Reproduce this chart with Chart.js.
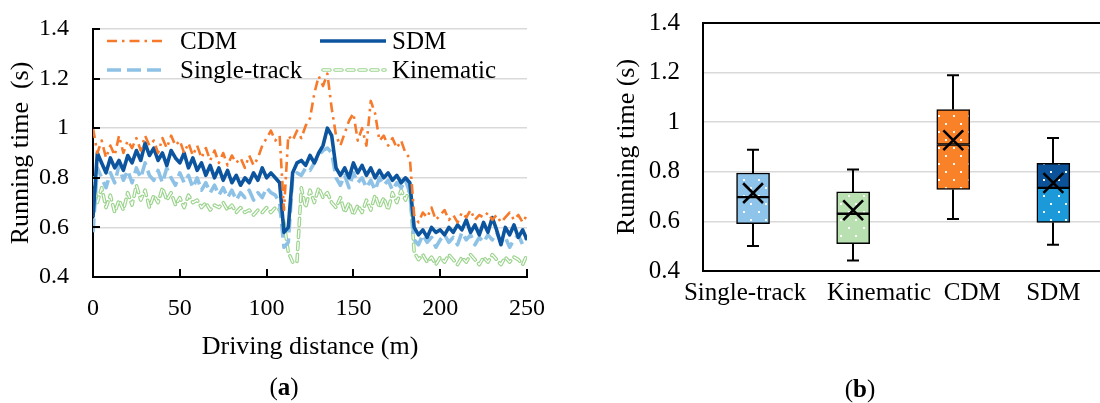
<!DOCTYPE html>
<html>
<head>
<meta charset="utf-8">
<title>Running time</title>
<script src="https://cdn.jsdelivr.net/npm/chart.js@4/dist/chart.umd.min.js"></script>
<style>
  html, body { margin: 0; padding: 0; background: #fff; width: 1100px; height: 403px; overflow: hidden; position: relative; }
  canvas { position: absolute; top: 0; }
  #chartA { left: 0; }
  #chartB { left: 560px; }
  .cap { position: absolute; font-family: 'Liberation Serif', 'Times New Roman', serif; font-size: 25px; color: #000; transform: translate(-50%, -50%); white-space: nowrap; }
</style>
</head>
<body>
<canvas id="chartA" width="560" height="403"></canvas>
<canvas id="chartB" width="560" height="403"></canvas>
<div class="cap" style="left:284px; top:387px;">(<b>a</b>)</div>
<div class="cap" style="left:860px; top:389px;">(<b>b</b>)</div>
<script>
// Running time along the route (m)
const distance = [0,2.5,5,7.5,10,12.5,15,17.5,20,22.5,25,27.5,30,32.5,35,37.5,40,42.5,45,47.5,
  50,52.5,55,57.5,60,62.5,65,67.5,70,72.5,75,77.5,80,82.5,85,87.5,90,92.5,95,97.5,
  100,102.5,105,107.5,110,112.5,115,117.5,120,122.5,125,127.5,130,132.5,135,137.5,140,142.5,145,147.5,
  150,152.5,155,157.5,160,162.5,165,167.5,170,172.5,175,177.5,180,182.5,185,187.5,190,192.5,195,197.5,
  200,202.5,205,207.5,210,212.5,215,217.5,220,222.5,225,227.5,230,232.5,235,237.5,240,242.5,245,247.5,250];

const cdm = [1.00,0.90,0.95,0.88,0.93,0.89,0.97,0.90,0.95,0.92,
  0.96,0.91,0.97,0.93,0.95,0.90,0.96,0.92,0.97,0.93,
  0.95,0.90,0.94,0.89,0.93,0.88,0.92,0.87,0.91,0.86,
  0.90,0.85,0.89,0.86,0.88,0.84,0.89,0.85,0.88,0.93,
  0.96,0.99,0.95,0.97,0.67,0.97,0.95,0.99,0.96,1.01,
  1.04,1.14,1.21,1.17,1.22,1.08,0.97,0.93,0.98,1.03,
  1.06,0.95,1.00,0.93,1.11,1.06,0.95,0.97,0.93,0.96,
  0.92,0.95,0.90,0.88,0.65,0.62,0.66,0.64,0.68,0.63,
  0.65,0.67,0.63,0.65,0.62,0.66,0.64,0.67,0.63,0.65,
  0.64,0.66,0.63,0.65,0.62,0.64,0.66,0.63,0.65,0.62,0.65];

const sdm = [0.64,0.90,0.86,0.82,0.88,0.84,0.87,0.83,0.89,0.86,
  0.91,0.87,0.94,0.89,0.92,0.87,0.90,0.85,0.91,0.88,
  0.86,0.90,0.84,0.88,0.83,0.86,0.81,0.85,0.80,0.84,
  0.79,0.83,0.78,0.81,0.77,0.80,0.78,0.82,0.79,0.84,
  0.80,0.82,0.80,0.78,0.58,0.60,0.82,0.86,0.87,0.85,
  0.89,0.86,0.90,0.93,1.00,0.97,0.84,0.81,0.84,0.80,
  0.86,0.82,0.85,0.81,0.84,0.80,0.83,0.80,0.82,0.79,
  0.81,0.78,0.80,0.78,0.60,0.57,0.59,0.56,0.60,0.58,
  0.59,0.57,0.60,0.58,0.61,0.59,0.63,0.58,0.61,0.57,
  0.62,0.58,0.64,0.59,0.53,0.60,0.57,0.61,0.56,0.59,0.55];

const singleTrack = [0.58,0.84,0.80,0.76,0.82,0.78,0.85,0.79,0.83,0.78,
  0.84,0.80,0.86,0.81,0.79,0.83,0.78,0.84,0.80,0.77,
  0.82,0.78,0.81,0.76,0.80,0.75,0.78,0.74,0.77,0.73,
  0.76,0.72,0.75,0.71,0.74,0.72,0.75,0.71,0.74,0.72,
  0.76,0.74,0.73,0.70,0.52,0.54,0.80,0.82,0.81,0.84,
  0.83,0.86,0.89,0.91,0.92,0.90,0.80,0.77,0.81,0.76,
  0.82,0.78,0.80,0.76,0.79,0.75,0.80,0.77,0.79,0.75,
  0.78,0.76,0.79,0.74,0.55,0.53,0.57,0.54,0.56,0.52,
  0.55,0.57,0.54,0.56,0.53,0.58,0.55,0.57,0.53,0.56,
  0.54,0.57,0.55,0.58,0.54,0.56,0.52,0.55,0.57,0.53,0.56];

const kinematic = [0.80,0.70,0.76,0.68,0.73,0.66,0.71,0.67,0.74,0.69,
  0.77,0.71,0.75,0.68,0.73,0.70,0.76,0.71,0.74,0.69,
  0.72,0.68,0.73,0.70,0.71,0.68,0.70,0.67,0.69,0.68,
  0.70,0.67,0.69,0.66,0.68,0.66,0.67,0.65,0.67,0.66,
  0.68,0.66,0.68,0.67,0.62,0.50,0.46,0.46,0.76,0.68,
  0.75,0.70,0.76,0.72,0.74,0.70,0.68,0.72,0.66,0.70,
  0.65,0.69,0.66,0.71,0.67,0.73,0.68,0.72,0.67,0.74,
  0.70,0.75,0.71,0.76,0.50,0.47,0.49,0.46,0.48,0.45,
  0.48,0.46,0.49,0.47,0.45,0.48,0.46,0.49,0.47,0.45,
  0.48,0.46,0.49,0.47,0.45,0.48,0.46,0.48,0.47,0.45,0.49];

// Box plot summary per model
const boxLabels = ['Single-track', 'Kinematic', 'CDM', 'SDM'];
const whiskerLow  = [0.501, 0.442, 0.610, 0.506];
const quart1      = [0.591, 0.510, 0.729, 0.596];
const medians     = [0.698, 0.631, 0.910, 0.735];
const quart3      = [0.795, 0.719, 1.051, 0.834];
const whiskerHigh = [0.889, 0.809, 1.189, 0.936];
const means       = [0.714, 0.645, 0.927, 0.755];

const yTicks = [0.4, 0.6, 0.8, 1.0, 1.2, 1.4];

const FONT = "'Liberation Serif', 'Times New Roman', serif";
Chart.defaults.font.family = FONT;
Chart.defaults.color = '#000';

const pts = arr => distance.map((d, i) => ({ x: d, y: arr[i] }));
const tickText = v => String(+v.toFixed(1));

// short inward tick marks on the bottom and left axes
const innerTicks = {
  id: 'innerTicks',
  afterDraw(chart) {
    const { ctx, chartArea: a, scales: { x, y } } = chart;
    ctx.save();
    ctx.strokeStyle = '#000';
    ctx.lineWidth = 2;
    ctx.beginPath();
    x.ticks.forEach(t => {
      const px = Math.round(x.getPixelForValue(t.value));
      ctx.moveTo(px, a.bottom); ctx.lineTo(px, a.bottom - 8);
    });
    y.ticks.forEach(t => {
      const py = Math.round(y.getPixelForValue(t.value));
      ctx.moveTo(a.left, py); ctx.lineTo(a.left + 7, py);
    });
    ctx.stroke();
    ctx.restore();
  }
};

// two-column legend drawn inside the plot area
const legendSpots = {
  'CDM':          { x0: 107, x1: 166, tx: 180, y: 41 },
  'SDM':          { x0: 320, x1: 386, tx: 392, y: 41 },
  'Single-track': { x0: 107, x1: 166, tx: 180, y: 70 },
  'Kinematic':    { x0: 323, x1: 385, tx: 392, y: 70 }
};
const insideLegend = {
  id: 'insideLegend',
  afterDatasetsDraw(chart) {
    const ctx = chart.ctx;
    const sets = chart.data.datasets;
    ctx.save();
    for (let i = sets.length - 1; i >= 0; i--) {
      const ds = sets[i];
      const s = legendSpots[ds.label];
      ctx.strokeStyle = ds.borderColor;
      ctx.lineWidth = ds.borderWidth;
      ctx.lineCap = ds.borderCapStyle || 'butt';
      ctx.setLineDash(ds.borderDash || []);
      ctx.beginPath();
      ctx.moveTo(s.x0, s.y); ctx.lineTo(s.x1, s.y);
      ctx.stroke();
    }
    ctx.setLineDash([]);
    ctx.fillStyle = '#000';
    ctx.font = '25px ' + FONT;
    ctx.textBaseline = 'middle';
    Object.keys(legendSpots).forEach(k => {
      ctx.fillText(k, legendSpots[k].tx, legendSpots[k].y + 1);
    });
    ctx.restore();
  }
};

// invisible tick strokes give the label gap without padding the chart area
const hiddenTicks = len => ({ drawTicks: true, tickLength: len, tickColor: 'rgba(0,0,0,0)' });

new Chart(document.getElementById('chartA'), {
  type: 'line',
  data: {
    datasets: [
      { label: 'CDM', data: pts(cdm), borderColor: '#f7792a', borderWidth: 2.6, borderDash: [10, 5, 2.5, 5] },
      { label: 'SDM', data: pts(sdm), borderColor: '#0c559e', borderWidth: 3.6 },
      { label: 'Single-track', data: pts(singleTrack), borderColor: '#8dc2e6', borderWidth: 3.6, borderDash: [14, 6] },
      // hollow dashes: thin white core over a wider green stroke
      { label: 'Kinematic', data: pts(kinematic), borderColor: '#ffffff', borderWidth: 1.3, borderDash: [7, 5], borderCapStyle: 'round' },
      { label: 'Kinematic', data: pts(kinematic), borderColor: '#9cd48e', borderWidth: 3.6, borderDash: [7, 5], borderCapStyle: 'round' }
    ]
  },
  options: {
    responsive: false,
    animation: false,
    events: [],
    elements: { point: { radius: 0 }, line: { tension: 0, borderJoinStyle: 'round' } },
    layout: { padding: { top: 29, right: 33, left: 0, bottom: 0 } },
    plugins: { legend: { display: false }, tooltip: { enabled: false } },
    scales: {
      x: {
        type: 'linear', min: 0, max: 250,
        ticks: { stepSize: 50, font: { size: 24 }, color: '#000', padding: 0, maxRotation: 0 },
        grid: { display: false, ...hiddenTicks(17) },
        border: { color: '#000', width: 2 },
        title: { display: true, text: 'Driving distance (m)', font: { size: 26 }, color: '#000', padding: { top: 0, bottom: 40 } },
        afterFit(s) { s.height = 126; }
      },
      y: {
        min: 0.4, max: 1.4,
        afterBuildTicks(s) { s.ticks = yTicks.map(v => ({ value: v })); },
        ticks: { font: { size: 24 }, color: '#000', padding: 0, callback: tickText },
        grid: { color: '#d9d9d9', lineWidth: 1.5, ...hiddenTicks(24) },
        border: { color: '#000', width: 2 },
        title: { display: true, text: 'Running time  (s)', font: { size: 26 }, color: '#000', padding: { top: 6, bottom: 0 } },
        afterFit(s) { s.width = 93; }
      }
    }
  },
  plugins: [innerTicks, insideLegend]
});

// ---- box plot ----
const canvasB = document.getElementById('chartB');
const ctxB = canvasB.getContext('2d');

function dotted(color) {
  const c = document.createElement('canvas');
  c.width = 15; c.height = 16;
  const g = c.getContext('2d');
  g.fillStyle = color;
  g.fillRect(0, 0, 15, 16);
  g.fillStyle = 'rgba(255,255,255,0.95)';
  g.fillRect(3, 3, 2, 2);
  g.fillRect(10, 11, 2, 2);
  return ctxB.createPattern(c, 'repeat');
}

const lowerFill = ['#8fc4ea', '#b9e0b1', '#f98128', '#1b99d9'].map(dotted);
const upperFill = ['#8fc4ea', '#b9e0b1', '#f98128', '#0b5298'].map(dotted);

// whiskers with end caps, drawn behind the boxes
const whiskers = {
  id: 'whiskers',
  beforeDatasetsDraw(chart) {
    const { ctx, scales: { x, y } } = chart;
    ctx.save();
    ctx.strokeStyle = '#000';
    ctx.lineWidth = 2;
    ctx.beginPath();
    boxLabels.forEach((_, i) => {
      const cx = Math.round(x.getPixelForValue(i));
      const lo = y.getPixelForValue(whiskerLow[i]);
      const hi = y.getPixelForValue(whiskerHigh[i]);
      ctx.moveTo(cx, lo); ctx.lineTo(cx, y.getPixelForValue(quart1[i]));
      ctx.moveTo(cx, y.getPixelForValue(quart3[i])); ctx.lineTo(cx, hi);
      ctx.moveTo(cx - 6, lo); ctx.lineTo(cx + 6, lo);
      ctx.moveTo(cx - 6, hi); ctx.lineTo(cx + 6, hi);
    });
    ctx.stroke();
    ctx.restore();
  }
};

// closes the plot frame along the top and right edges
const frame = {
  id: 'frame',
  afterDatasetsDraw(chart) {
    const { ctx, chartArea: a } = chart;
    ctx.save();
    ctx.strokeStyle = '#000';
    ctx.lineWidth = 2;
    ctx.beginPath();
    ctx.moveTo(a.left, a.top); ctx.lineTo(a.right, a.top); ctx.lineTo(a.right, a.bottom);
    ctx.stroke();
    ctx.restore();
  }
};

// category names sit a little off the box centres, as in the source layout
const labelNudge = [-8, 26, 19, 0];
const categoryNames = {
  id: 'categoryNames',
  afterDraw(chart) {
    const { ctx, chartArea: a, scales: { x } } = chart;
    ctx.save();
    ctx.fillStyle = '#000';
    ctx.font = '25px ' + FONT;
    ctx.textAlign = 'center';
    ctx.textBaseline = 'middle';
    x.getLabels().forEach((name, i) => {
      ctx.fillText(name, x.getPixelForValue(i) + labelNudge[i], a.bottom + 22);
    });
    ctx.restore();
  }
};

new Chart(canvasB, {
  type: 'bar',
  data: {
    labels: boxLabels,
    datasets: [
      { type: 'line', label: 'Mean', data: means, showLine: false, pointStyle: 'crossRot', pointRadius: 14,
        pointBorderWidth: 2.6, pointBorderColor: '#000', pointBackgroundColor: '#000', order: 0 },
      { label: 'Q3', data: boxLabels.map((_, i) => [medians[i], quart3[i]]), backgroundColor: upperFill,
        borderColor: '#000', borderWidth: 1.5, borderSkipped: false, barThickness: 33, grouped: false, order: 1 },
      { label: 'Q1', data: boxLabels.map((_, i) => [quart1[i], medians[i]]), backgroundColor: lowerFill,
        borderColor: '#000', borderWidth: 1.5, borderSkipped: false, barThickness: 33, grouped: false, order: 2 }
    ]
  },
  options: {
    responsive: false,
    animation: false,
    events: [],
    layout: { padding: { top: 23, right: 9, left: 0, bottom: 0 } },
    plugins: { legend: { display: false }, tooltip: { enabled: false } },
    scales: {
      x: {
        ticks: { display: false },
        grid: { display: false, drawTicks: false },
        border: { color: '#000', width: 2 },
        afterFit(s) { s.height = 132; }
      },
      y: {
        min: 0.4, max: 1.4,
        afterBuildTicks(s) { s.ticks = yTicks.map(v => ({ value: v })); },
        ticks: { font: { size: 25 }, color: '#000', padding: 0, callback: tickText },
        grid: { color: '#d9d9d9', lineWidth: 1.5, ...hiddenTicks(23) },
        border: { color: '#000', width: 2 },
        title: { display: true, text: 'Running time (s)', font: { size: 26 }, color: '#000', padding: { top: 52, bottom: 0 } },
        afterFit(s) { s.width = 143; }
      }
    }
  },
  plugins: [whiskers, frame, categoryNames]
});
</script>
</body>
</html>
